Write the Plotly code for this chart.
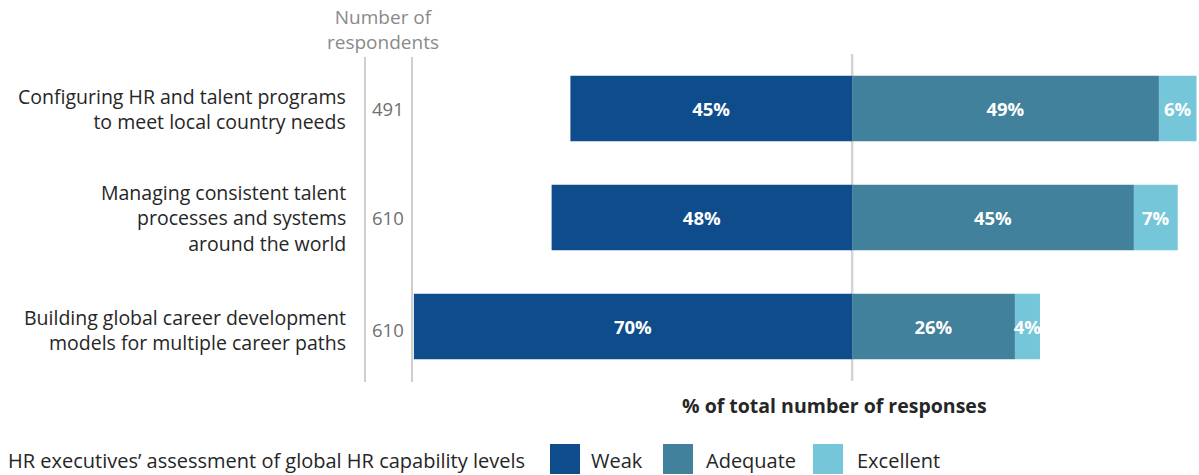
import plotly.graph_objects as go

categories = [
    "Configuring HR and talent programs<br>to meet local country needs",
    "Managing consistent talent<br>processes and systems<br>around the world",
    "Building global career development<br>models for multiple career paths",
]
respondents = ["491", "610", "610"]
weak = [45, 48, 70]
adequate = [49, 45, 26]
excellent = [6, 7, 4]
series_names = ["Weak", "Adequate", "Excellent"]
colors = ["#0f4c8c", "#41819c", "#74c6d8"]

FONT = "Open Sans"
W, H = 1199, 475
ML, MR, MT, MB = 412, 0, 54, 94
pw = W - ML - MR
ph = H - MT - MB

def px_x(x):
    return (x - ML) / pw

def px_y(y):
    return (H - MB - y) / ph

ypos = list(range(len(categories)))

fig = go.Figure()
for name, vals, col, sign in [
    ("Weak", weak, colors[0], -1),
    ("Adequate", adequate, colors[1], 1),
    ("Excellent", excellent, colors[2], 1),
]:
    fig.add_trace(go.Bar(
        y=ypos, x=[sign * v for v in vals], orientation="h", name=name,
        marker=dict(color=col, line=dict(width=0)),
        text=[f"{v}%" for v in vals], textposition="inside", textangle=0,
        insidetextanchor="middle", constraintext="none",
        textfont=dict(family=FONT, size=18.5, color="white", weight="bold"),
        width=0.6, showlegend=False, hoverinfo="skip",
    ))

fig.update_layout(
    width=W, height=H, barmode="relative",
    margin=dict(l=ML, r=MR, t=MT, b=MB),
    plot_bgcolor="white", paper_bgcolor="white",
    font=dict(family=FONT),
    xaxis=dict(range=[-70.3, 55.4], showgrid=False, zeroline=False,
               showticklabels=False, fixedrange=True),
    yaxis=dict(range=[2.5, -0.5], showgrid=False, zeroline=False,
               showticklabels=False, fixedrange=True),
)

shapes = []
shapes.append(dict(type="line", xref="x", yref="paper", x0=0, x1=0,
                   y0=px_y(381), y1=px_y(54), line=dict(color="#d4d4d4", width=2.5),
                   layer="below"))
for xp in (365, 412):
    shapes.append(dict(type="line", xref="paper", yref="paper",
                       x0=px_x(xp), x1=px_x(xp), y0=px_y(382), y1=px_y(57),
                       line=dict(color="#cfcfcf", width=2)))

annotations = []
for i, (cat, n) in enumerate(zip(categories, respondents)):
    extra = 3 if i == 2 else 0
    annotations.append(dict(text=cat, x=px_x(347), xref="paper", y=i, yref="y",
                            yshift=-extra, xanchor="right", yanchor="middle",
                            showarrow=False, align="right", borderpad=0,
                            font=dict(family=FONT, size=19.5, color="#262626")))
    annotations.append(dict(text=n, x=px_x(388), xref="paper", y=i, yref="y",
                            yshift=-extra, xanchor="center", yanchor="middle", showarrow=False,
                            font=dict(family=FONT, size=18.5, color="#707070")))

annotations.append(dict(text="Number of<br>respondents", x=px_x(383), xref="paper",
                        y=px_y(29), yref="paper", xanchor="center",
                        yanchor="middle", showarrow=False, borderpad=0,
                        font=dict(family=FONT, size=19, color="#8a8a8a")))
annotations.append(dict(text="<b>% of total number of responses</b>", x=px_x(834), xref="paper",
                        y=px_y(406), yref="paper", xanchor="center", yanchor="middle",
                        showarrow=False, font=dict(family=FONT, size=19.5, color="#262626")))
annotations.append(dict(text="HR executives\u2019 assessment of global HR capability levels",
                        x=px_x(6), xref="paper", y=px_y(460), yref="paper",
                        xanchor="left", yanchor="middle", showarrow=False,
                        font=dict(family=FONT, size=20, color="#262626")))

leg_sq = [550, 663, 813]
leg_tx = [589, 704, 855]
for name, col, sx, tx in zip(series_names, colors, leg_sq, leg_tx):
    shapes.append(dict(type="rect", xref="paper", yref="paper",
                       x0=px_x(sx), x1=px_x(sx + 30), y0=px_y(474), y1=px_y(444),
                       fillcolor=col, line=dict(width=0)))
    annotations.append(dict(text=name, x=px_x(tx), xref="paper", y=px_y(460), yref="paper",
                            xanchor="left", yanchor="middle", showarrow=False,
                            font=dict(family=FONT, size=20, color="#262626")))

fig.update_layout(shapes=shapes, annotations=annotations)
fig.write_html("out.html", config={"displayModeBar": False},
               post_script="document.body.style.margin='0';document.body.style.overflow='hidden';")
